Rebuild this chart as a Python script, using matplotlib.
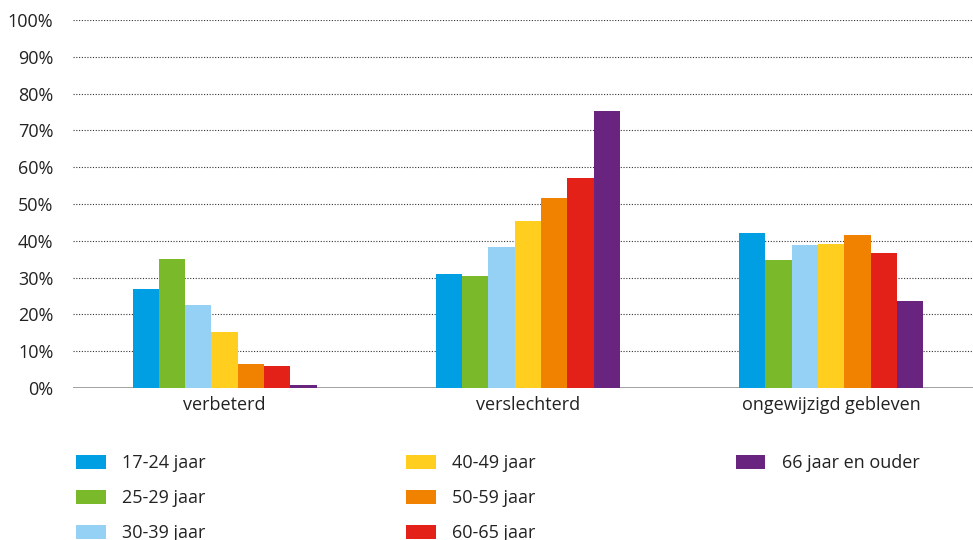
import numpy as np
import matplotlib
matplotlib.use("Agg")
import matplotlib.pyplot as plt
from matplotlib.ticker import FuncFormatter

plt.rcParams["font.family"] = ["Liberation Sans Narrow", "Open Sans", "DejaVu Sans"]

# Data
categories = ["verbeterd", "verslechterd", "ongewijzigd gebleven"]
age_groups = ["17-24 jaar", "25-29 jaar", "30-39 jaar", "40-49 jaar",
              "50-59 jaar", "60-65 jaar", "66 jaar en ouder"]
v_17_24 = [27, 31, 42]
v_25_29 = [35, 30.4, 34.8]
v_30_39 = [22.6, 38.3, 38.9]
v_40_49 = [15.2, 45.4, 39.1]
v_50_59 = [6.5, 51.6, 41.6]
v_60_65 = [6.0, 57.1, 36.7]
v_66_plus = [0.8, 75.3, 23.6]
series = [v_17_24, v_25_29, v_30_39, v_40_49, v_50_59, v_60_65, v_66_plus]

colors = ["#009FE3", "#7AB929", "#95D1F4", "#FFCE1F", "#F08200", "#E32119", "#68247E"]
text_color = "#222222"

fig = plt.figure(figsize=(9.73, 5.4), dpi=100)
ax = fig.add_axes([0.075, 0.2815, 0.935, 0.6815])

x = np.arange(len(categories))
bar_w = 0.0867
offsets = (np.arange(len(series)) - (len(series) - 1) / 2) * bar_w
bars = []
for vals, off, col, lab in zip(series, offsets, colors, age_groups):
    bars.append(ax.bar(x + off, vals, width=bar_w, color=col, label=lab, zorder=3))

ax.set_xlim(-0.5, 2.5)
ax.set_ylim(0, 100)
ax.set_yticks(np.arange(0, 101, 10))
ax.yaxis.set_major_formatter(FuncFormatter(lambda v, p: f"{int(v)}%"))
ax.set_xticks(x)
ax.set_xticklabels(categories)
ax.tick_params(axis="both", length=0, labelsize=13, colors=text_color)
ax.tick_params(axis="y", pad=14)
ax.tick_params(axis="x", pad=6)

for y in np.arange(10, 101, 10):
    ax.axhline(y, color="#333333", linestyle=(0, (1, 1.5)), linewidth=0.8, zorder=1)
ax.axhline(0, color="#999999", linewidth=2, zorder=2)

for s in ax.spines.values():
    s.set_visible(False)

# legend in three columns: 3 / 3 / 1 entries
groups = [(0, 3), (3, 6), (6, 7)]
col_x = [0.078, 0.417, 0.756]
for (a, b), cx in zip(groups, col_x):
    leg = fig.legend(bars[a:b], age_groups[a:b], loc="upper left",
                     bbox_to_anchor=(cx, 0.159), frameon=False, fontsize=13,
                     handlelength=1.65, handleheight=0.85, handletextpad=0.9,
                     labelspacing=0.95, labelcolor=text_color,
                     borderaxespad=0, borderpad=0)

fig.savefig("out.png", dpi=100)
